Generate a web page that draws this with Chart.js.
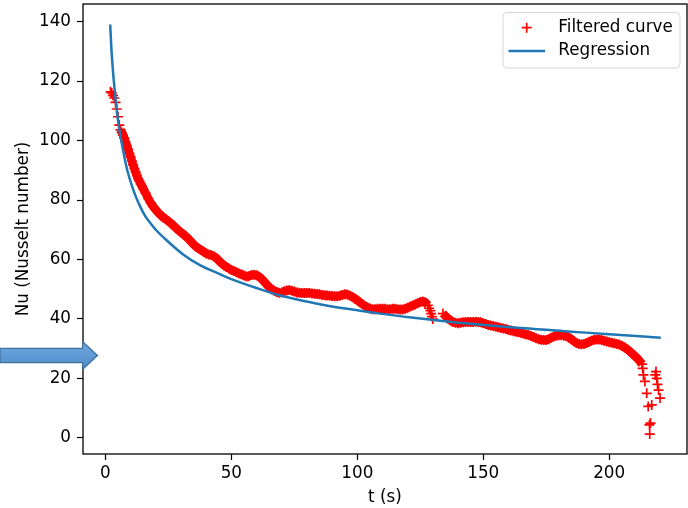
<!DOCTYPE html>
<html><head><meta charset="utf-8">
<script src="https://cdn.jsdelivr.net/npm/chart.js@4"></script>
<style>html,body{margin:0;padding:0;background:#fff;}#wrap{width:688px;height:508px;}</style>
</head><body><div id="wrap"><canvas id="c" width="688" height="508" style="width:688px;height:508px"></canvas></div>
<script>
// ---- data ----
const xTicks = [0, 50, 100, 150, 200];
const yTicks = [0, 20, 40, 60, 80, 100, 120, 140];
const xLabel = 't (s)';
const yLabel = 'Nu (Nusselt number)';
const seriesNames = ['Filtered curve', 'Regression'];

const filteredT = [
2,2.5,3,3.5,4,4.5,5,5.5,6,6.5,7,7.5,8,8.5,9,9.5,10,10.5,11,11.5,12,12.5,13,13.5,14,14.5,
15,16,17,18,19,20,21,22,23,24,25,26,27,28,29,30,31,32,33,34,35,36,37,38,39,40,
41,42,43,44,45,46,47,48,49,50,51,52,53,54,55,56,57,58,59,60,61,62,63,64,65,66,67,68,69,70,
71,72,73,74,75,76,77,78,79,80,81,82,83,84,85,86,87,88,89,90,91,92,93,94,95,96,97,98,99,100,
101,102,103,104,105,106,107,108,109,110,111,112,113,114,115,116,117,118,119,120,121,122,123,124,125,126,127,128,
128.5,129,129.3,129.6,130,
134,135,136,137,138,139,140,141,142,143,144,145,146,147,148,149,150,
151,152,153,154,155,156,157,158,159,160,161,162,163,164,165,166,167,168,169,170,
171,172,173,174,175,176,177,178,179,180,181,182,183,184,185,186,187,188,189,190,
191,192,193,194,195,196,197,198,199,200,201,202,203,204,205,206,207,208,209,210,211,212,213,
213.3,213.6,214.2,214.9,215.5,216,216.1,216.4,216.9,218.3,218.6,218.9,219.2,219.6,220.2];

const filteredNu = [
116.4,116.0,115.2,114.3,112.8,110.6,108.0,105.2,103.6,102.7,101.8,100.8,99.5,98.3,97.0,95.7,94.5,93.1,91.8,90.6,89.4,88.2,87.2,86.3,85.4,84.7,
83.8,82.2,80.5,79.0,77.8,76.7,75.7,74.9,74.1,73.5,72.9,72.2,71.4,70.6,69.8,69.1,68.5,67.7,66.9,66.0,65.1,64.3,63.7,63.2,62.6,62.0,
61.7,61.5,61.1,60.5,59.6,58.8,58.1,57.5,57.0,56.5,56.1,55.7,55.3,55.0,54.6,54.3,54.4,54.8,54.9,54.7,54.2,53.5,52.6,51.6,50.7,50.0,49.5,49.1,48.8,48.9,
49.3,49.6,49.7,49.5,49.2,48.9,48.8,48.7,48.7,48.7,48.7,48.6,48.5,48.4,48.3,48.1,48.0,47.9,47.8,47.7,47.6,47.6,47.8,48.1,48.3,48.2,47.9,47.4,46.9,46.3,
45.6,45.0,44.4,43.9,43.5,43.3,43.3,43.4,43.4,43.4,43.4,43.3,43.3,43.4,43.4,43.3,43.2,43.2,43.4,43.8,44.2,44.5,44.9,45.3,45.7,45.9,45.6,44.6,
43.6,42.8,41.8,40.8,40.0,
41.8,41.0,40.2,39.5,39.0,38.7,38.6,38.7,38.9,39.0,39.0,39.0,39.0,39.1,39.0,38.9,38.6,
38.3,38.0,37.8,37.6,37.4,37.2,37.0,36.8,36.6,36.3,36.1,35.9,35.7,35.5,35.3,35.0,34.8,34.6,34.3,33.9,
33.5,33.2,33.0,32.9,32.9,33.2,33.7,34.1,34.4,34.5,34.5,34.4,34.2,33.8,33.2,32.5,31.9,31.6,31.5,31.6,
31.9,32.3,32.7,33.0,33.1,33.1,32.9,32.7,32.4,32.2,32.0,31.8,31.6,31.4,31.0,30.5,29.9,29.2,28.5,27.7,26.9,26.0,24.8,
23.4,21.2,19.0,15.0,10.6,4.4,1.3,5.0,11.1,21.2,22.3,20.0,18.0,16.1,13.4];

const regressionT = [1.9,2.3,2.8,3.3,4,4.6,5.3,6,7,8,9,10.6,12,13.9,16,17.9,20,24.5,31,37.7,44.3,50,60,69.4,82.7,96,109,122.4,133,155,182,200,220.5];
const regressionNu = [139,132,125.5,120.3,114,109.5,105,101.3,96.8,92.5,89,84.6,81.3,77.6,74.3,72.2,70,66.3,61.6,58,55.5,53.4,50.4,47.9,45.4,43.4,41.8,40.4,39.4,37.6,35.9,34.9,33.7];

// ---- chart ----
const FONT = "'DejaVu Sans', sans-serif";
const FS = 16.8;
Chart.defaults.font.family = FONT;
Chart.defaults.font.size = FS;
Chart.defaults.color = '#000';

const filteredPts = filteredT.map((t, i) => ({x: t, y: filteredNu[i]}));
const regressionPts = regressionT.map((t, i) => ({x: t, y: regressionNu[i]}));
// the densely sampled stretches of the filtered curve merge into a solid band
const bandA = filteredPts.filter(p => p.x >= 6 && p.x <= 128);
const bandB = filteredPts.filter(p => p.x >= 134 && p.x <= 213);

const framePlugin = {
  id: 'frameLegendArrow',
  afterDraw(chart) {
    const ctx = chart.ctx, ca = chart.chartArea;
    ctx.save();
    ctx.strokeStyle = '#000'; ctx.lineWidth = 1.3;
    ctx.strokeRect(ca.left, ca.top, ca.right - ca.left, ca.bottom - ca.top);
    const lx = 503, ly = 12.5, lw = 177, lh = 55.5, r = 4;
    ctx.beginPath();
    ctx.moveTo(lx + r, ly); ctx.lineTo(lx + lw - r, ly); ctx.quadraticCurveTo(lx + lw, ly, lx + lw, ly + r);
    ctx.lineTo(lx + lw, ly + lh - r); ctx.quadraticCurveTo(lx + lw, ly + lh, lx + lw - r, ly + lh);
    ctx.lineTo(lx + r, ly + lh); ctx.quadraticCurveTo(lx, ly + lh, lx, ly + lh - r);
    ctx.lineTo(lx, ly + r); ctx.quadraticCurveTo(lx, ly, lx + r, ly); ctx.closePath();
    ctx.fillStyle = 'rgba(255,255,255,0.8)'; ctx.fill();
    ctx.strokeStyle = '#d6d6d6'; ctx.lineWidth = 1; ctx.stroke();
    ctx.strokeStyle = '#ff0000'; ctx.lineWidth = 1.67;
    ctx.beginPath();
    ctx.moveTo(521.7, 27.7); ctx.lineTo(531.7, 27.7);
    ctx.moveTo(526.7, 22.7); ctx.lineTo(526.7, 32.7);
    ctx.stroke();
    ctx.strokeStyle = '#1f77b4'; ctx.lineWidth = 2.5;
    ctx.beginPath(); ctx.moveTo(508.5, 51); ctx.lineTo(545, 51); ctx.stroke();
    ctx.fillStyle = '#000'; ctx.font = FS + 'px ' + FONT; ctx.textBaseline = 'middle'; ctx.textAlign = 'left';
    ctx.fillText(seriesNames[0], 558.3, 28);
    ctx.fillText(seriesNames[1], 558.3, 51);
    const g = ctx.createLinearGradient(0, 342, 0, 369);
    g.addColorStop(0, '#6ea8dd'); g.addColorStop(1, '#4f8ccb');
    ctx.beginPath();
    ctx.moveTo(0, 348.3); ctx.lineTo(82.7, 348.3); ctx.lineTo(82.7, 341.7); ctx.lineTo(97.5, 355.5);
    ctx.lineTo(82.7, 369.3); ctx.lineTo(82.7, 362.7); ctx.lineTo(0, 362.7); ctx.closePath();
    ctx.fillStyle = g; ctx.fill();
    ctx.strokeStyle = '#41719c'; ctx.lineWidth = 1.3; ctx.stroke();
    ctx.restore();
  }
};

const zeroPad = ax => { ax.paddingTop = 0; ax.paddingBottom = 0; ax.paddingLeft = 0; ax.paddingRight = 0; };

new Chart(document.getElementById('c'), {
  type: 'scatter',
  data: {
    datasets: [
      {
        label: seriesNames[1], data: regressionPts, showLine: true,
        borderColor: '#1f77b4', borderWidth: 2.5, pointRadius: 0,
        cubicInterpolationMode: 'monotone', fill: false, order: 1
      },
      {
        label: seriesNames[0], data: filteredPts, showLine: false,
        pointStyle: 'cross', pointRadius: 5, pointBorderWidth: 1.67,
        borderColor: '#ff0000', backgroundColor: '#ff0000', order: 2
      },
      {
        label: seriesNames[0] + ' band', data: bandA, showLine: true,
        borderColor: '#ff0000', borderWidth: 8.5, pointRadius: 0, borderJoinStyle: 'round', order: 3
      },
      {
        label: seriesNames[0] + ' band', data: bandB, showLine: true,
        borderColor: '#ff0000', borderWidth: 8.5, pointRadius: 0, borderJoinStyle: 'round', order: 3
      }
    ]
  },
  options: {
    responsive: false, animation: false, devicePixelRatio: 1,
    layout: {autoPadding: false, padding: {top: 4, right: 1, left: 0, bottom: 0}},
    plugins: {legend: {display: false}, tooltip: {enabled: false}},
    scales: {
      x: {
        type: 'linear', min: -8.9, max: 230.9,
        afterBuildTicks: ax => { ax.ticks = xTicks.map(v => ({value: v})); },
        afterFit: ax => { ax.height = 54; zeroPad(ax); },
        ticks: {autoSkip: false, maxRotation: 0, padding: 4, color: '#000', font: {size: FS}},
        grid: {drawOnChartArea: false, drawTicks: true, tickLength: 6, tickColor: '#000', tickWidth: 1.2},
        border: {display: false},
        title: {display: true, text: xLabel, color: '#000', font: {size: FS}, padding: {top: 0, bottom: 0}}
      },
      y: {
        type: 'linear', min: -5.4, max: 145.9,
        afterBuildTicks: ax => { ax.ticks = yTicks.map(v => ({value: v})); },
        afterFit: ax => { ax.width = 83; zeroPad(ax); },
        ticks: {autoSkip: false, padding: 6, color: '#000', font: {size: FS}},
        grid: {drawOnChartArea: false, drawTicks: true, tickLength: 6, tickColor: '#000', tickWidth: 1.2},
        border: {display: false},
        title: {display: true, text: yLabel, color: '#000', font: {size: FS}, padding: {top: 14, bottom: 0}}
      }
    }
  },
  plugins: [framePlugin]
});
</script></body></html>
